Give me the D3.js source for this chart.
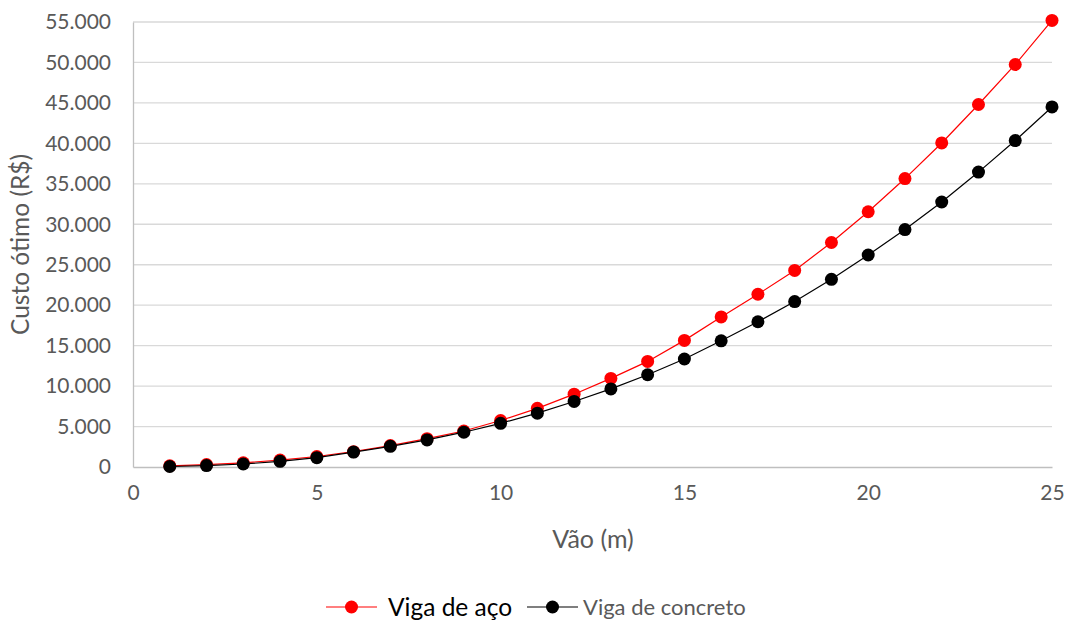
<!DOCTYPE html>
<html>
<head>
<meta charset="utf-8">
<script src="https://cdn.jsdelivr.net/npm/d3@7"></script>
<style>
  body { margin: 0; background: #fff; }
  svg text { font-family: Lato, "Open Sans", sans-serif; }
</style>
</head>
<body>
<svg id="chart" width="1067" height="621"></svg>
<script>
// Span of the beam (m)
const vaos = [1,2,3,4,5,6,7,8,9,10,11,12,13,14,15,16,17,18,19,20,21,22,23,24,25];
// Optimal cost (R$) per span
const custoAco = [150,300,520,850,1300,1900,2650,3500,4450,5750,7250,9000,10950,13050,15650,18550,21350,24300,27750,31550,35650,40050,44800,49750,55200];
const custoConcreto = [60,170,370,700,1150,1850,2550,3350,4300,5400,6650,8100,9650,11400,13350,15600,17950,20450,23200,26200,29350,32750,36450,40350,44500];
const yTicks = [0,5000,10000,15000,20000,25000,30000,35000,40000,45000,50000,55000];
const xTicks = [0,5,10,15,20,25];
const seriesNames = ["Viga de aço", "Viga de concreto"];
const seriesColors = ["#ff0000", "#000000"];

const svg = d3.select("#chart");
const plotLeft = 133, plotRight = 1052, plotTop = 22, plotBottom = 467;

const x = d3.scaleLinear().domain([0, 25]).range([plotLeft, plotRight]);
const y = d3.scaleLinear().domain([0, 55000]).range([plotBottom, plotTop]);

const fmt = v => d3.format(",")(v).replace(/,/g, ".");

// Horizontal gridlines
svg.append("g").selectAll("line").data(yTicks.filter(d => d > 0)).join("line")
  .attr("x1", plotLeft).attr("x2", plotRight)
  .attr("y1", d => y(d)).attr("y2", d => y(d))
  .attr("stroke", "#d9d9d9").attr("stroke-width", 1.3);

// Y axis
const yAxis = svg.append("g").attr("transform", `translate(${plotLeft},0)`)
  .call(d3.axisLeft(y).tickValues(yTicks).tickFormat(fmt).tickSize(0).tickPadding(22));
yAxis.select(".domain").attr("stroke", "#bfbfbf").attr("stroke-width", 1.3);
yAxis.selectAll("text").attr("fill", "#595959").attr("font-size", 21);

// X axis
const xAxis = svg.append("g").attr("transform", `translate(0,${plotBottom})`)
  .call(d3.axisBottom(x).tickValues(xTicks).tickSize(0).tickPadding(18));
xAxis.select(".domain").attr("stroke", "#bfbfbf").attr("stroke-width", 1.3);
xAxis.selectAll("text").attr("fill", "#595959").attr("font-size", 21);

// Axis titles
svg.append("text")
  .attr("transform", `translate(29,${(plotTop + plotBottom) / 2}) rotate(-90)`)
  .attr("text-anchor", "middle").attr("fill", "#595959").attr("font-size", 24.5)
  .text("Custo ótimo (R$)");
svg.append("text")
  .attr("x", 593).attr("y", 548)
  .attr("text-anchor", "middle").attr("fill", "#595959").attr("font-size", 25)
  .text("Vão (m)");

// Series
const line = d3.line().x(d => x(d[0])).y(d => y(d[1]));
[custoAco, custoConcreto].forEach((vals, i) => {
  const pts = vaos.map((v, k) => [v, vals[k]]);
  const g = svg.append("g");
  g.append("path").datum(pts).attr("d", line)
    .attr("fill", "none").attr("stroke", seriesColors[i]).attr("stroke-width", 1.2);
  g.selectAll("circle").data(pts).join("circle")
    .attr("cx", d => x(d[0])).attr("cy", d => y(d[1])).attr("r", 6.5)
    .attr("fill", seriesColors[i]);
});

// Legend
const legend = [
  { lx: 326, tx: 388, size: 24.5, color: "#000" },
  { lx: 527, tx: 583, size: 22, color: "#595959" }
];
legend.forEach((l, i) => {
  const ly = 607;
  svg.append("line").attr("x1", l.lx).attr("x2", l.lx + 51)
    .attr("y1", ly).attr("y2", ly)
    .attr("stroke", seriesColors[i]).attr("stroke-width", 1.2);
  svg.append("circle").attr("cx", l.lx + 25.5).attr("cy", ly).attr("r", 6.5)
    .attr("fill", seriesColors[i]);
  svg.append("text").attr("x", l.tx).attr("y", ly).attr("dy", "0.35em")
    .attr("font-size", l.size).attr("fill", l.color).text(seriesNames[i]);
});
</script>
</body>
</html>
